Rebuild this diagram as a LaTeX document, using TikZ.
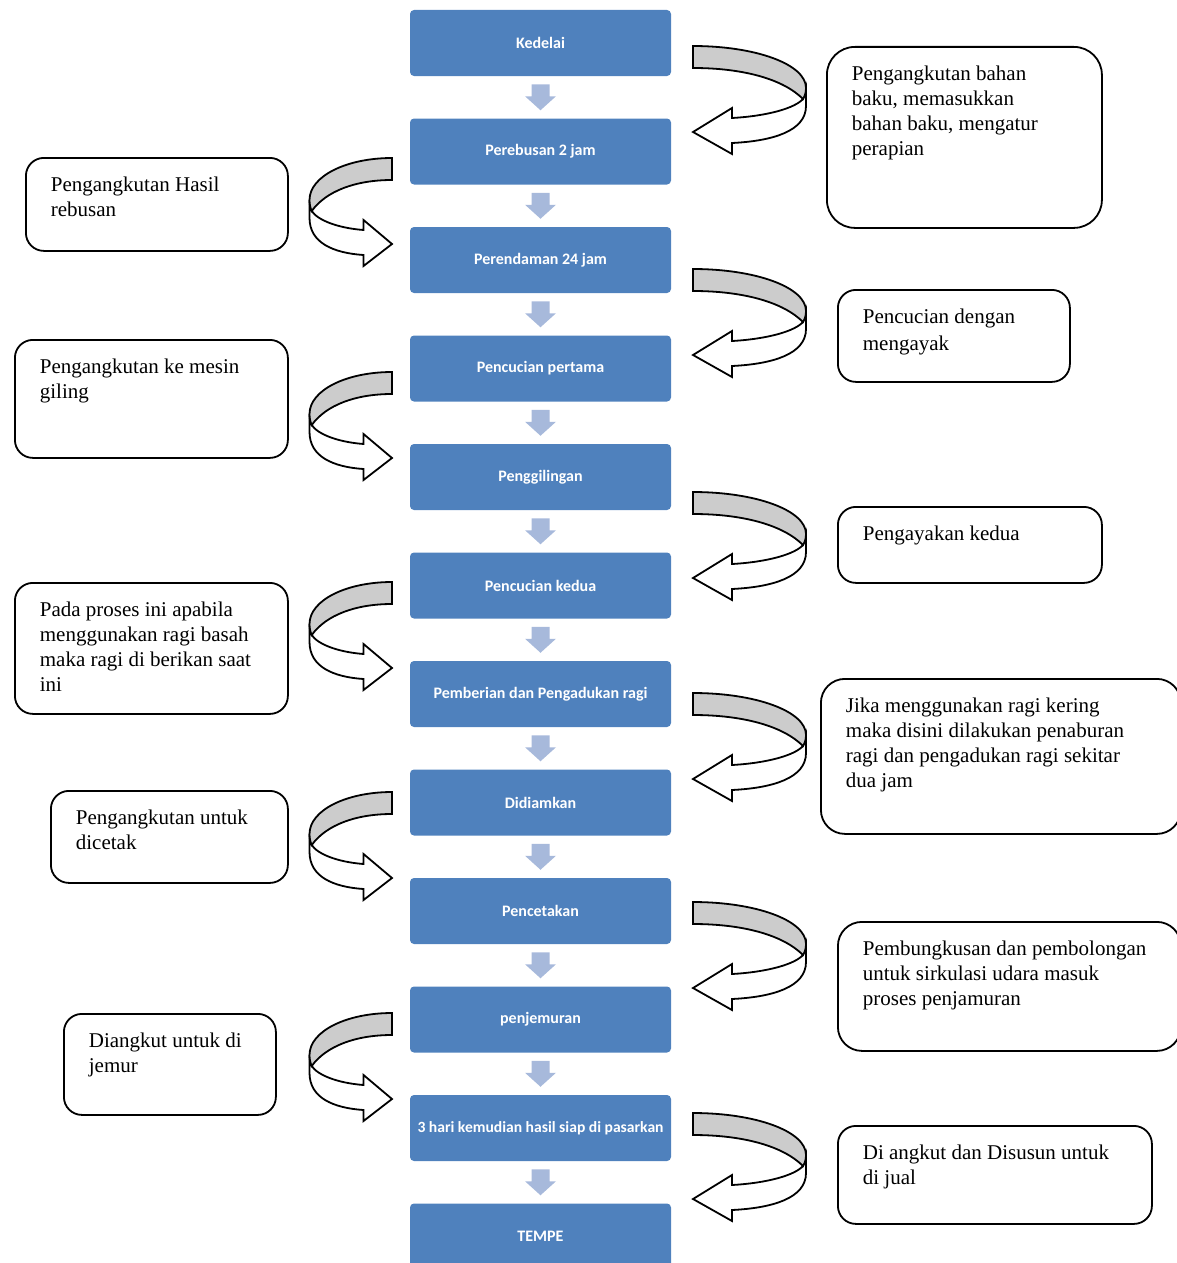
\documentclass[tikz,border=0pt]{standalone}
\usepackage{fontspec}
\setmainfont{Liberation Serif}
\newfontfamily\boxfont{Carlito}
\usetikzlibrary{positioning,calc}

\definecolor{boxblue}{RGB}{79,129,189}
\definecolor{arrowblue}{RGB}{167,185,219}
\definecolor{ribbon}{RGB}{204,204,204}

% text of a note, kept at the top of its box
\newcommand{\notetext}[3]{\parbox[t][\dimexpr #2pt-32pt\relax][t]{\dimexpr #1pt-50pt\relax}{\strut #3}}

\tikzset{
  stepbox/.style={fill=boxblue, rounded corners=4pt, minimum width=261pt, minimum height=66pt,
    inner sep=0pt, text=white, font=\boxfont\bfseries\fontsize{16}{18}\selectfont},
  note/.style={draw, line width=1.8pt, rounded corners=18pt, anchor=north west,
    inner xsep=25pt, inner ysep=16pt, font=\fontsize{21}{25}\selectfont},
  downarrow/.pic={
    \fill[arrowblue] (-9,-13) -- (9,-13) -- (9,-1) -- (15.5,-1) -- (0,13) -- (-15.5,-1) -- (-9,-1) -- cycle;
  },
  uturn/.pic={
    \draw[line width=1.8pt, fill=white] (113,42) -- (113,60) .. controls (113,85) and (80,95) .. (39,97)
      -- (39,108) -- (0,86) -- (39,62) -- (39,72) .. controls (75,70) and (102,62) .. (110,53) -- cycle;
    \draw[line width=1.8pt, fill=ribbon] (0,0) .. controls (62,0) and (113,18) .. (113,42)
      .. controls (113,46) and (112,50) .. (110,53) .. controls (90,33) and (50,22) .. (0,22) -- cycle;
  }
}

\begin{document}
\begin{tikzpicture}[x=1pt,y=-1pt]
  \useasboundingbox (0,0) rectangle (1176,1263);

  % process steps
  \node[stepbox] (b1) at (540.5,43) {Kedelai};
  \node[stepbox, below=42.1pt of b1] (b2) {Perebusan 2 jam};
  \node[stepbox, below=42.1pt of b2] (b3) {Perendaman 24 jam};
  \node[stepbox, below=42.1pt of b3] (b4) {Pencucian pertama};
  \node[stepbox, below=42.1pt of b4] (b5) {Penggilingan};
  \node[stepbox, below=42.1pt of b5] (b6) {Pencucian kedua};
  \node[stepbox, below=42.1pt of b6] (b7) {Pemberian dan Pengadukan ragi};
  \node[stepbox, below=42.1pt of b7] (b8) {Didiamkan};
  \node[stepbox, below=42.1pt of b8] (b9) {Pencetakan};
  \node[stepbox, below=42.1pt of b9] (b10) {penjemuran};
  \node[stepbox, below=42.1pt of b10, font=\boxfont\bfseries\fontsize{15.6}{17}\selectfont] (b11) {3 hari kemudian hasil siap di pasarkan};
  \node[stepbox, below=42.1pt of b11] (b12) {TEMPE};

  \foreach \i [evaluate=\i as \j using int(\i+1)] in {1,...,11}{
    \coordinate (m\i) at ($(b\i.south)!0.5!(b\j.north)$);
    \pic at (m\i) {downarrow};
  }

  % notes on the right
  \node[note, rounded corners=28pt] (n1) at (826,46) {\notetext{275}{181}{Pengangkutan bahan\\ baku, memasukkan\\ bahan baku, mengatur\\ perapian}};
  \node[note] (n3) at (837,289) {\notetext{232}{92}{Pencucian dengan\\[2pt] mengayak}};
  \node[note] (n5) at (837,506) {\notetext{264}{76}{Pengayakan kedua}};
  \node[note, rounded corners=24pt] (n7) at (820,678) {\notetext{360}{155}{Jika menggunakan ragi kering\\ maka disini dilakukan penaburan\\ ragi dan pengadukan ragi sekitar\\ dua jam}};
  \node[note, rounded corners=24pt] (n9) at (837,921) {\notetext{343}{129}{Pembungkusan dan pembolongan\\ untuk sirkulasi udara masuk\\ proses penjamuran}};
  \node[note] (n11) at (837,1125) {\notetext{314}{98}{Di angkut dan Disusun untuk\\ di jual}};

  % notes on the left
  \node[note] (n2) at (25,157) {\notetext{262}{93}{Pengangkutan Hasil\\ rebusan}};
  \node[note] (n4) at (14,339) {\notetext{273}{118}{Pengangkutan ke mesin\\ giling}};
  \node[note] (n6) at (14,582) {\notetext{273}{131}{Pada proses ini apabila\\ menggunakan ragi basah\\ maka ragi di berikan saat\\ ini}};
  \node[note] (n8) at (50,790) {\notetext{237}{92}{Pengangkutan untuk\\ dicetak}};
  \node[note] (n10) at (63,1013) {\notetext{212}{101}{Diangkut untuk di\\ jemur}};

  % turning arrows
  \foreach \y in {46,269,492,693,902,1113}
    \pic at (693,\y) {uturn};
  \foreach \y in {158,372,582,792,1013}
    \pic[xscale=-0.73] at (392,\y) {uturn};
\end{tikzpicture}
\end{document}
